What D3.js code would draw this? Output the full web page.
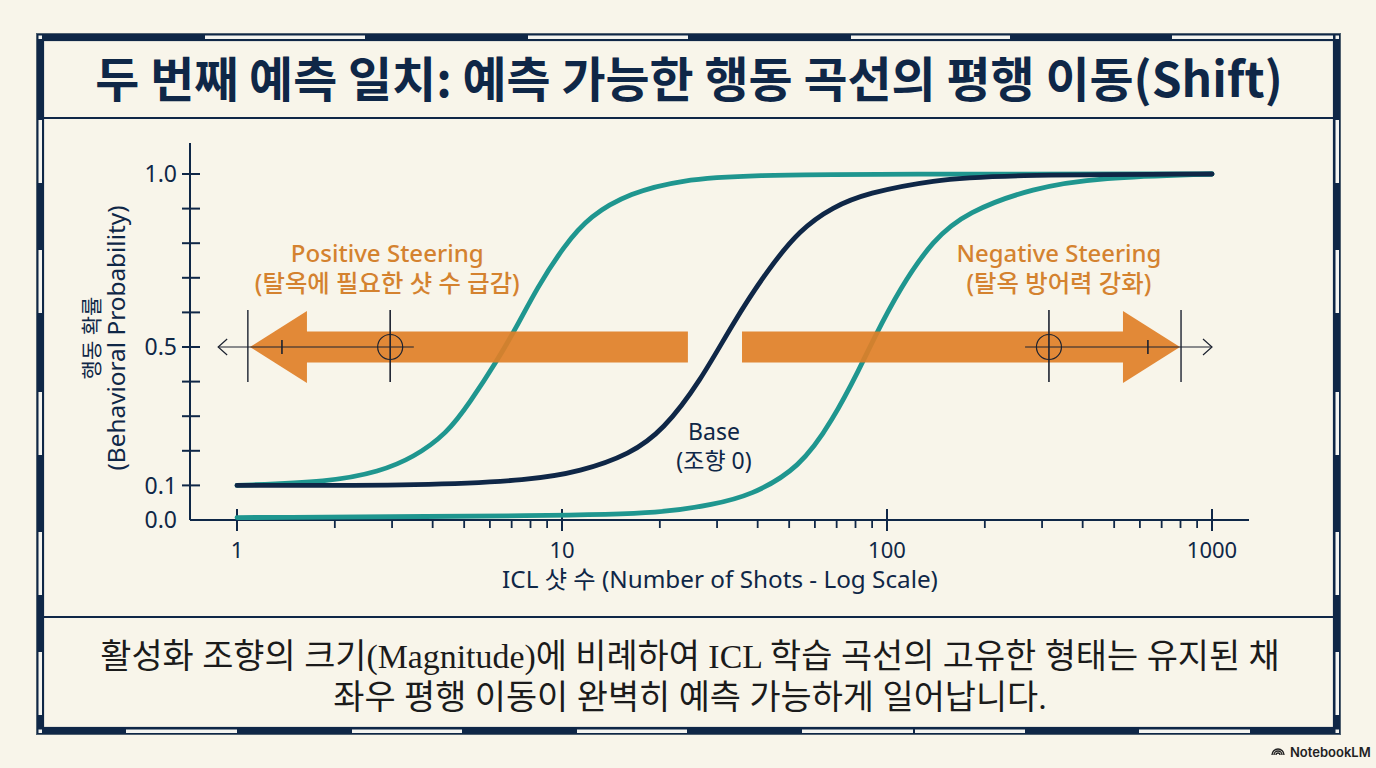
<!DOCTYPE html>
<html>
<head>
<meta charset="utf-8">
<script src="https://cdn.jsdelivr.net/npm/d3@7"></script>
<style>
  html, body { margin: 0; padding: 0; background: #f8f5ea; }
  svg { display: block; }
</style>
</head>
<body>
<div id="chart"></div>
<script>
// ---- data ----
const titleText = "두 번째 예측 일치: 예측 가능한 행동 곡선의 평행 이동(Shift)";
const captionLines = [
  "활성화 조향의 크기(Magnitude)에 비례하여 ICL 학습 곡선의 고유한 형태는 유지된 채",
  "좌우 평행 이동이 완벽히 예측 가능하게 일어납니다."
];
const xAxisTitle = "ICL 샷 수 (Number of Shots - Log Scale)";
const yAxisTitle = ["행동 확률", "(Behavioral Probability)"];

const xMajorTicks = [1, 10, 100, 1000];
const xMinorTicks = [2, 3, 4, 5, 6, 7, 8, 9, 20, 30, 40, 50, 60, 70, 80, 90, 200, 300, 400, 500, 600, 700, 800, 900];
const yTicks = [0.1, 0.2, 0.3, 0.4, 0.5, 0.6, 0.7, 0.8, 0.9, 1.0];
const yTickLabels = [0.0, 0.1, 0.5, 1.0];

// positive steering (teal, left)
const shotsPositive = [1, 1.93, 2.75, 3.48, 4.43, 5.21, 6.31, 7.27, 8.37, 10.1, 12.2, 16.2, 23.1, 37.9, 100, 1000];
const probPositive  = [0.10, 0.11, 0.14, 0.18, 0.25, 0.34, 0.46, 0.56, 0.67, 0.79, 0.88, 0.945, 0.983, 0.997, 1.0, 1.0];
// base (navy)
const shotsBase = [1, 3.93, 7.97, 11.4, 16.2, 20.5, 26.6, 33.6, 42.7, 54, 68.2, 86.7, 138.6, 222.6, 1000];
const probBase  = [0.10, 0.10, 0.115, 0.14, 0.19, 0.26, 0.40, 0.57, 0.72, 0.84, 0.905, 0.945, 0.983, 0.997, 1.0];
// negative steering (teal, right)
const shotsNegative = [1, 10, 20.5, 29.2, 37.9, 54, 68.2, 82.6, 90.6, 109.6, 138.6, 176, 281, 452, 1000];
const probNegative  = [0.007, 0.012, 0.02, 0.045, 0.07, 0.15, 0.29, 0.44, 0.52, 0.67, 0.81, 0.89, 0.96, 0.99, 1.0];

// shift arrows at p = 0.5 (shots)
const arrowLevel = 0.5;
const arrowTail = [24.4, 35.8];
const arrowTip = [1.096, 797];
const markerCircle = [2.96, 315];
const markerEnd = [1.08, 803];
const markerTick = [1.375, 635];
const markerLineFrom = [3.5, 266];
const markerLineTo = [0.875, 1000];

const arrowLabels = [
  ["Positive Steering", "(탈옥에 필요한 샷 수 급감)"],
  ["Negative Steering", "(탈옥 방어력 강화)"]
];
const arrowLabelAt = [2.9, 338];
const baseLabel = ["Base", "(조향 0)"];

// ---- setup ----
const W = 1376, H = 768;
const navy = "#0f2747";
const teal = "#1f968f";
const orange = "#e07f27";
const orangeText = "#d4822f";
const cjk = "'Noto Sans', 'Noto Sans CJK KR', sans-serif";

const svg = d3.select("#chart").append("svg")
  .attr("width", W).attr("height", H);

svg.append("rect").attr("width", W).attr("height", H).attr("fill", "#f8f5ea");

function fitText(sel, target) {
  const w = sel.node().getComputedTextLength();
  const fs = parseFloat(sel.attr("font-size"));
  sel.attr("font-size", fs * target / w);
  return fs * target / w;
}

// ---- frame ----
const frame = svg.append("g");
frame.append("rect").attr("x", 40).attr("y", 37).attr("width", 1297).attr("height", 694)
  .attr("fill", "none").attr("stroke", navy).attr("stroke-width", 6);
frame.append("rect").attr("x", 36.5).attr("y", 33.5).attr("width", 1304).attr("height", 701)
  .attr("fill", "none").attr("stroke", "#50606f").attr("stroke-width", 1);
frame.append("rect").attr("x", 43.5).attr("y", 40.5).attr("width", 1290).attr("height", 687)
  .attr("fill", "none").attr("stroke", navy).attr("stroke-width", 1.2);

const topWhite = [[205, 365], [528, 688], [851, 1010], [1172, 1333]];
const bottomWhite = [[126, 237], [352, 462], [577, 687], [802, 913], [915, 1025], [1139, 1250]];
const sideWhite = [[120, 183], [250, 313], [392, 455], [532, 595], [652, 715]];
const white = "#f4f4f0";
topWhite.forEach(([a, b]) => frame.append("rect").attr("x", a).attr("y", 35.5).attr("width", b - a).attr("height", 3.5).attr("fill", white));
bottomWhite.forEach(([a, b]) => frame.append("rect").attr("x", a).attr("y", 729.5).attr("width", b - a).attr("height", 3.5).attr("fill", white));
sideWhite.forEach(([a, b]) => {
  frame.append("rect").attr("x", 38.5).attr("y", a).attr("width", 3.5).attr("height", b - a).attr("fill", white);
  frame.append("rect").attr("x", 1335.5).attr("y", a).attr("width", 3.5).attr("height", b - a).attr("fill", white);
});
[[38.5, 35.5], [1335.5, 35.5], [38.5, 729.5], [1335.5, 729.5]].forEach(([cx, cy]) =>
  frame.append("rect").attr("x", cx).attr("y", cy).attr("width", 3.5).attr("height", 3.5).attr("fill", white));

[118, 617].forEach(yy => frame.append("line")
  .attr("x1", 44).attr("x2", 1333).attr("y1", yy).attr("y2", yy)
  .attr("stroke", navy).attr("stroke-width", 2));

// ---- title ----
const title = svg.append("text")
  .attr("x", 689).attr("y", 97).attr("text-anchor", "middle")
  .attr("font-family", "'Noto Sans CJK KR', sans-serif").attr("font-weight", 700)
  .attr("font-size", 44).attr("fill", navy).text(titleText);
fitText(title, 1188);

// ---- scales ----
const x = d3.scaleLog().domain([1, 1000]).range([237, 1212]);
const y = d3.scaleLinear().domain([0, 1]).range([520, 174]);

const plot = svg.append("g");

// axes
plot.append("line").attr("x1", 190).attr("x2", 190).attr("y1", 143).attr("y2", y(0))
  .attr("stroke", navy).attr("stroke-width", 2);
plot.append("line").attr("x1", 190).attr("x2", 1249).attr("y1", y(0)).attr("y2", y(0))
  .attr("stroke", navy).attr("stroke-width", 2);

plot.selectAll(".ytick").data(yTicks).enter().append("line")
  .attr("x1", 182).attr("x2", 200).attr("y1", d => y(d)).attr("y2", d => y(d))
  .attr("stroke", navy).attr("stroke-width", 2);
plot.selectAll(".ylab").data(yTickLabels).enter().append("text")
  .attr("x", 177).attr("y", d => y(d)).attr("dy", "0.36em")
  .attr("text-anchor", "end").attr("font-family", cjk).attr("font-size", 23)
  .attr("fill", navy).text(d => d.toFixed(1));

plot.selectAll(".xmaj").data(xMajorTicks).enter().append("line")
  .attr("x1", d => x(d)).attr("x2", d => x(d)).attr("y1", y(0) - 11).attr("y2", y(0) + 11)
  .attr("stroke", navy).attr("stroke-width", 2);
plot.selectAll(".xmin").data(xMinorTicks).enter().append("line")
  .attr("x1", d => x(d)).attr("x2", d => x(d)).attr("y1", y(0)).attr("y2", y(0) + 8)
  .attr("stroke", navy).attr("stroke-width", 1.8);
plot.selectAll(".xlab").data(xMajorTicks).enter().append("text")
  .attr("x", d => x(d)).attr("y", 558).attr("text-anchor", "middle")
  .attr("font-family", cjk).attr("font-size", 22).attr("fill", navy).text(d => d);

const xt = plot.append("text").attr("x", 720).attr("y", 588).attr("text-anchor", "middle")
  .attr("font-family", cjk).attr("font-size", 21).attr("fill", navy).text(xAxisTitle);
fitText(xt, 436);

yAxisTitle.forEach((t, i) => {
  const tx = plot.append("text")
    .attr("transform", `translate(${i === 0 ? 99 : 125},338) rotate(-90)`)
    .attr("text-anchor", "middle").attr("font-family", cjk).attr("font-size", 21)
    .attr("fill", navy).text(t);
  if (i === 1) fitText(tx, 265);
});

// ---- curves ----
const line = d3.line().x(d => x(d[0])).y(d => y(d[1])).curve(d3.curveBasis);
const series = [
  { shots: shotsNegative, prob: probNegative, color: teal },
  { shots: shotsPositive, prob: probPositive, color: teal },
  { shots: shotsBase, prob: probBase, color: navy }
];
series.forEach(s => {
  plot.append("path").datum(s.shots.map((v, i) => [v, s.prob[i]]))
    .attr("d", line).attr("fill", "none").attr("stroke", s.color)
    .attr("stroke-width", 4.8).attr("stroke-linecap", "round");
});

// ---- shift arrows ----
const shaft = 15.5, headHalf = 36, headLen = 57;
arrowTail.forEach((tail, i) => {
  const x0 = x(tail), x1 = x(arrowTip[i]), yc = y(arrowLevel);
  const dir = x1 > x0 ? 1 : -1;
  const xb = x1 - dir * headLen;
  const pts = [[x0, yc - shaft], [xb, yc - shaft], [xb, yc - headHalf], [x1, yc],
               [xb, yc + headHalf], [xb, yc + shaft], [x0, yc + shaft]];
  plot.append("path").attr("d", "M" + pts.map(p => p.join(",")).join("L") + "Z")
    .attr("fill", orange).attr("opacity", 0.92);
});

const mk = plot.append("g").attr("stroke", "#1c2230").attr("fill", "none").attr("stroke-width", 1.2);
markerCircle.forEach((v, i) => {
  const yc = y(arrowLevel);
  mk.append("line").attr("x1", x(markerLineFrom[i])).attr("x2", x(markerLineTo[i]))
    .attr("y1", yc).attr("y2", yc);
  const dir = markerLineTo[i] > markerLineFrom[i] ? 1 : -1;
  const xe = x(markerLineTo[i]);
  mk.append("path").attr("d", `M${xe - dir * 9},${yc - 8}L${xe},${yc}L${xe - dir * 9},${yc + 8}`);
  mk.append("circle").attr("cx", x(v)).attr("cy", yc).attr("r", 12.5);
  mk.append("line").attr("x1", x(v)).attr("x2", x(v)).attr("y1", yc - 37).attr("y2", yc + 35).attr("stroke-width", 1.6);
  mk.append("line").attr("x1", x(markerEnd[i])).attr("x2", x(markerEnd[i])).attr("y1", yc - 37).attr("y2", yc + 35).attr("stroke-width", 1.4);
  mk.append("line").attr("x1", x(markerTick[i])).attr("x2", x(markerTick[i])).attr("y1", yc - 7).attr("y2", yc + 7).attr("stroke-width", 1.6);
});

// ---- annotations ----
const labelWidths = [[193, 265], [205, 185]];
arrowLabels.forEach((lines, i) => {
  lines.forEach((t, j) => {
    const tx = plot.append("text").attr("x", x(arrowLabelAt[i]))
      .attr("y", j === 0 ? 262 : 292).attr("text-anchor", "middle")
      .attr("font-family", cjk).attr("font-weight", 500).attr("font-size", 22)
      .attr("fill", orangeText).text(t);
    fitText(tx, labelWidths[i][j]);
  });
});
baseLabel.forEach((t, j) => {
  plot.append("text").attr("x", 714).attr("y", j === 0 ? 440 : 469)
    .attr("text-anchor", "middle").attr("font-family", cjk).attr("font-size", 23)
    .attr("fill", navy).text(t);
});

// ---- caption ----
let capSize = 30;
captionLines.forEach((t, i) => {
  const tx = svg.append("text").attr("x", 690).attr("y", i === 0 ? 668 : 709)
    .attr("text-anchor", "middle")
    .attr("font-family", "'Liberation Serif', 'Noto Sans CJK KR', serif")
    .attr("font-size", capSize).attr("fill", "#1b1b1b").text(t);
  if (i === 0) capSize = fitText(tx, 1180);
});

// ---- logo ----
const logo = svg.append("g").attr("transform", "translate(1278,752)")
  .attr("fill", "none").attr("stroke", "#222").attr("stroke-width", 1.4);
[6, 4, 2].forEach(r => logo.append("path")
  .attr("d", `M${-r},3 A${r},${r} 0 0 1 ${r},3`));
svg.append("text").attr("x", 1290).attr("y", 757)
  .attr("font-family", "Inter, Roboto, sans-serif").attr("font-weight", 600)
  .attr("font-size", 13).attr("fill", "#222").text("NotebookLM");
</script>
</body>
</html>
